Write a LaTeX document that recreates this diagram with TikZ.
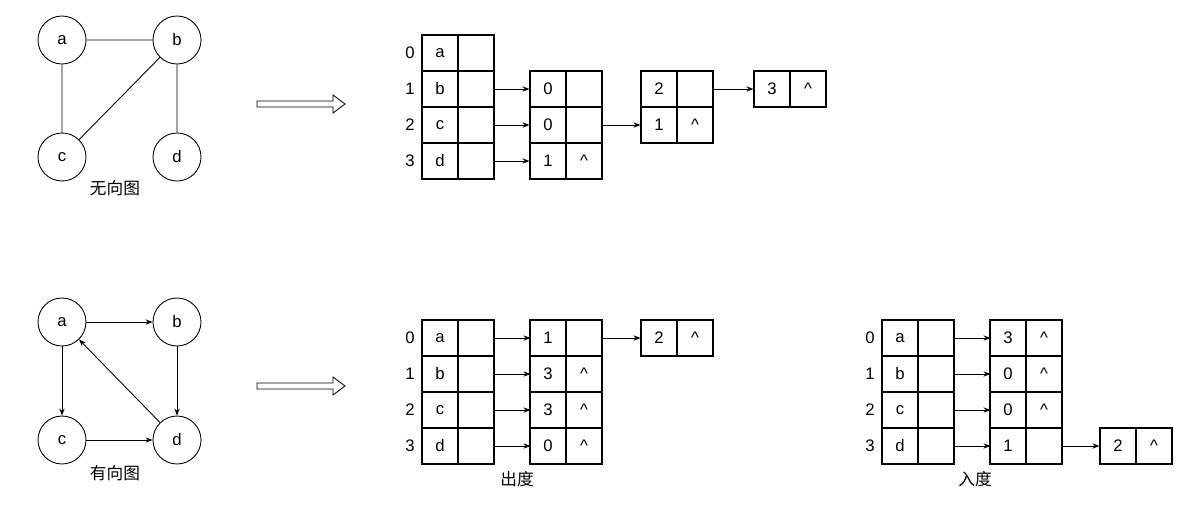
\documentclass[tikz,border=0pt]{standalone}
\usepackage{fontspec}
\setmainfont{Liberation Sans}
\newfontfamily\cjk{Noto Sans CJK SC}
\usetikzlibrary{arrows.meta}
\begin{document}
\begin{tikzpicture}[x=0.02cm,y=-0.02cm,font=\fontsize{9.5}{11}\selectfont,
  cell/.style={draw,minimum width=0.72cm,minimum height=0.72cm,inner sep=0pt,line width=0.6pt},
  vtx/.style={draw,circle,minimum size=0.96cm,inner sep=0pt,line width=0.5pt},
  con/.style={-{Stealth[length=4pt,width=3pt]},line width=0.5pt},
  lbl/.style={inner sep=0pt}]
\useasboundingbox (0,0) rectangle (1193,527);
\newcommand\cp[5]{% name, left x, top y, t1, t2
  \node[cell] (#1l) at ({#2+18},{#3+18}) {#4};
  \node[cell] (#1r) at ({#2+54},{#3+18}) {#5};}
\newcommand\harrow[1]{%
  \draw[line width=0.5pt] (257,#1-3) -- (333,#1-3) -- (333,#1-9) -- (345,#1) -- (333,#1+9) -- (333,#1+3) -- (257,#1+3) -- cycle;}
% top graph
\node[vtx] (ta) at (62,40) {a};
\node[vtx] (tb) at (177,40) {b};
\node[vtx] (tc) at (62,157) {c};
\node[vtx] (td) at (177,157) {d};
\draw[line width=0.5pt] (ta)--(tb) (ta)--(tc) (tb)--(tc) (tb)--(td);
\node[lbl] (tl) at (115,188) {\cjk 无向图};
\harrow{104}
% top table
\foreach \i/\v in {0/a,1/b,2/c,3/d}{
  \cp{t\i}{422}{35+36*\i}{\v}{}
  \node[lbl] (ti\i) at (410,53+36*\i) {\i};}
\cp{u1}{530}{71}{0}{}
\cp{u2}{530}{107}{0}{}
\cp{u3}{530}{143}{1}{\textasciicircum}
\cp{v1}{641}{71}{2}{}
\cp{v2}{641}{107}{1}{\textasciicircum}
\cp{w1}{754}{71}{3}{\textasciicircum}
\foreach \i in {1,2,3}{\draw[con] (t\i r.east) -- (u\i l.west);}
\draw[con] (u2r.east) -- (v2l.west);
\draw[con] (v1r.east) -- (w1l.west);
% bottom graph
\node[vtx] (ba) at (62,322) {a};
\node[vtx] (bb) at (177,322) {b};
\node[vtx] (bc) at (62,440) {c};
\node[vtx] (bd) at (177,440) {d};
\draw[con] (ba)--(bb);
\draw[con] (ba)--(bc);
\draw[con] (bb)--(bd);
\draw[con] (bc)--(bd);
\draw[con] (bd)--(ba);
\node[lbl] (bl) at (115,473) {\cjk 有向图};
\harrow{386}
% out table
\foreach \i/\v in {0/a,1/b,2/c,3/d}{
  \cp{o\i}{422}{320+36*\i}{\v}{}
  \node[lbl] (oi\i) at (410,338+36*\i) {\i};
  \draw[con] (o\i r.east) -- ++(36,0);}
\cp{p0}{530}{320}{1}{}
\cp{p1}{530}{356}{3}{\textasciicircum}
\cp{p2}{530}{392}{3}{\textasciicircum}
\cp{p3}{530}{428}{0}{\textasciicircum}
\cp{q0}{641}{320}{2}{\textasciicircum}
\draw[con] (p0r.east) -- (q0l.west);
\node[lbl] (ol) at (517,479) {\cjk 出度};
% in table
\foreach \i/\v in {0/a,1/b,2/c,3/d}{
  \cp{n\i}{882}{320+36*\i}{\v}{}
  \node[lbl] (ni\i) at (870,338+36*\i) {\i};
  \draw[con] (n\i r.east) -- ++(36,0);}
\cp{m0}{990}{320}{3}{\textasciicircum}
\cp{m1}{990}{356}{0}{\textasciicircum}
\cp{m2}{990}{392}{0}{\textasciicircum}
\cp{m3}{990}{428}{1}{}
\cp{k3}{1100}{428}{2}{\textasciicircum}
\draw[con] (m3r.east) -- (k3l.west);
\node[lbl] (il) at (975,479) {\cjk 入度};
\end{tikzpicture}
\end{document}
